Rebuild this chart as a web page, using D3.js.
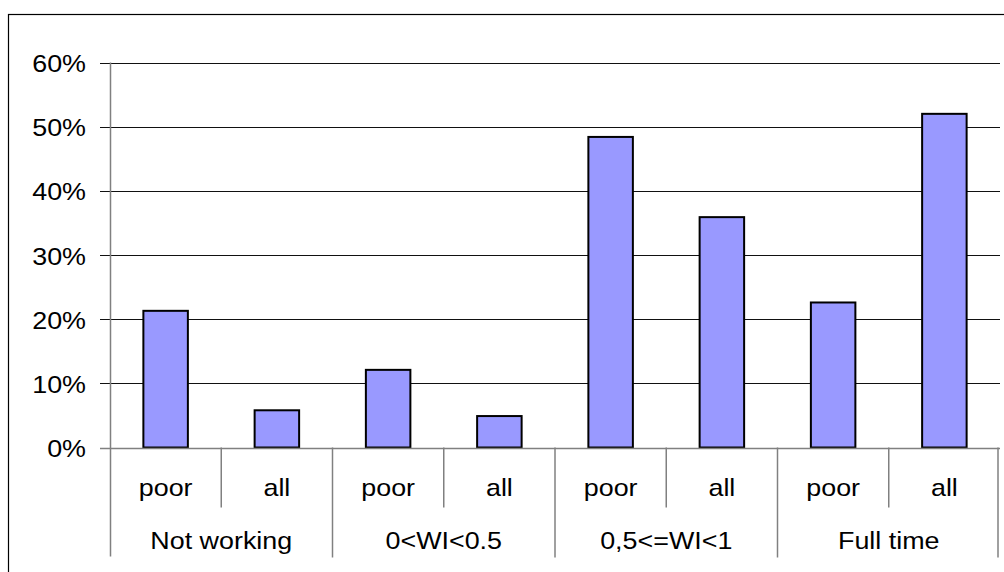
<!DOCTYPE html>
<html>
<head>
<meta charset="utf-8">
<script src="https://cdn.jsdelivr.net/npm/d3@7"></script>
<style>
  html, body { margin: 0; padding: 0; background: #fff; }
  svg { display: block; }
  text { font-family: "Liberation Sans", Arial, sans-serif; font-size: 24px; fill: #000; }
</style>
</head>
<body>
<div id="chart-mount"></div>
<script>
var WIDTH = 1004;
var HEIGHT = 572;
var X_STRETCH = 1.12;

var GROUPS = ['Not working', '0<WI<0.5', '0,5<=WI<1', 'Full time'];
var SUBS = ['poor', 'all'];
var POOR = [21.3, 12.1, 48.4, 22.6];
var ALL = [5.8, 4.9, 35.9, 52.0];
var Y_TICKS = [0, 10, 20, 30, 40, 50, 60];

var margin = { left: 110, right: 4, top: 62.5, bottom: 124.5 };

var bars = [];
GROUPS.forEach(function (g, i) {
  bars.push({ group: g, sub: SUBS[0], value: POOR[i], key: g + '|' + SUBS[0] });
  bars.push({ group: g, sub: SUBS[1], value: ALL[i], key: g + '|' + SUBS[1] });
});

var $svg = d3.select('#chart-mount').append('svg')
  .attr('width', WIDTH)
  .attr('height', HEIGHT);

var x = d3.scaleBand()
  .domain(bars.map(function (d) { return d.key; }))
  .range([margin.left, WIDTH - margin.right])
  .paddingInner(0.6)
  .paddingOuter(0.3);

var y = d3.scaleLinear()
  .domain([0, 60])
  .range([HEIGHT - margin.bottom, margin.top]);

var step = x.step();
var x0 = margin.left;
var x1 = WIDTH - margin.right;
var yZero = y(0);

// outer frame
$svg.append('rect')
  .attr('x', 8.5)
  .attr('y', 14.5)
  .attr('width', 1100)
  .attr('height', 700)
  .attr('fill', 'none')
  .attr('stroke', '#000')
  .attr('stroke-width', 1.2);

// gridlines + ticks
$svg.append('g')
  .selectAll('line')
  .data(Y_TICKS.filter(function (d) { return d > 0; }))
  .enter()
    .append('line')
    .attr('x1', x0 - 10)
    .attr('x2', x1)
    .attr('y1', function (d) { return Math.round(y(d)) + 0.5; })
    .attr('y2', function (d) { return Math.round(y(d)) + 0.5; })
    .attr('stroke', '#111')
    .attr('stroke-width', 1);

// y labels
$svg.append('g')
  .selectAll('text')
  .data(Y_TICKS)
  .enter()
    .append('text')
    .attr('transform', function (d) {
      return 'translate(86,' + (y(d) + 9.5) + ') scale(' + X_STRETCH + ',1)';
    })
    .attr('text-anchor', 'end')
    .text(function (d) { return d + '%'; });

// bars
$svg.append('g')
  .selectAll('rect')
  .data(bars)
  .enter()
    .append('rect')
    .attr('x', function (d) { return x(d.key); })
    .attr('y', function (d) { return y(d.value); })
    .attr('width', x.bandwidth())
    .attr('height', function (d) { return yZero - y(d.value); })
    .attr('fill', '#9999FF')
    .attr('stroke', '#000')
    .attr('stroke-width', 2);

// zero line and left axis
var axisColor = '#808080';
$svg.append('line')
  .attr('x1', x0 - 10).attr('x2', x1)
  .attr('y1', Math.round(yZero) + 0.5).attr('y2', Math.round(yZero) + 0.5)
  .attr('stroke', axisColor).attr('stroke-width', 1.5);

$svg.append('line')
  .attr('x1', x0 + 0.5).attr('x2', x0 + 0.5)
  .attr('y1', y(60)).attr('y2', yZero + 109)
  .attr('stroke', axisColor).attr('stroke-width', 1.5);

// sub-category dividers
var subEdges = d3.range(1, bars.length).filter(function (i) { return i % 2 === 1; });
$svg.append('g')
  .selectAll('line')
  .data(subEdges)
  .enter()
    .append('line')
    .attr('x1', function (i) { return x0 + i * step; })
    .attr('x2', function (i) { return x0 + i * step; })
    .attr('y1', yZero)
    .attr('y2', yZero + 60)
    .attr('stroke', axisColor).attr('stroke-width', 1.5);

// group dividers
var groupEdges = d3.range(1, GROUPS.length + 1);
$svg.append('g')
  .selectAll('line')
  .data(groupEdges)
  .enter()
    .append('line')
    .attr('x1', function (i) { return Math.min(x0 + i * 2 * step, x1 - 2); })
    .attr('x2', function (i) { return Math.min(x0 + i * 2 * step, x1 - 2); })
    .attr('y1', yZero)
    .attr('y2', yZero + 110)
    .attr('stroke', axisColor).attr('stroke-width', 1.5);

// sub labels
$svg.append('g')
  .selectAll('text')
  .data(bars)
  .enter()
    .append('text')
    .attr('transform', function (d) {
      return 'translate(' + (x(d.key) + x.bandwidth() / 2) + ',' + (yZero + 48) + ') scale(' + X_STRETCH + ',1)';
    })
    .attr('text-anchor', 'middle')
    .text(function (d) { return d.sub; });

// group labels
$svg.append('g')
  .selectAll('text')
  .data(GROUPS)
  .enter()
    .append('text')
    .attr('transform', function (d, i) {
      return 'translate(' + (x0 + (i * 2 + 1) * step) + ',' + (yZero + 101) + ') scale(' + X_STRETCH + ',1)';
    })
    .attr('text-anchor', 'middle')
    .text(function (d) { return d; });
</script>
</body>
</html>
